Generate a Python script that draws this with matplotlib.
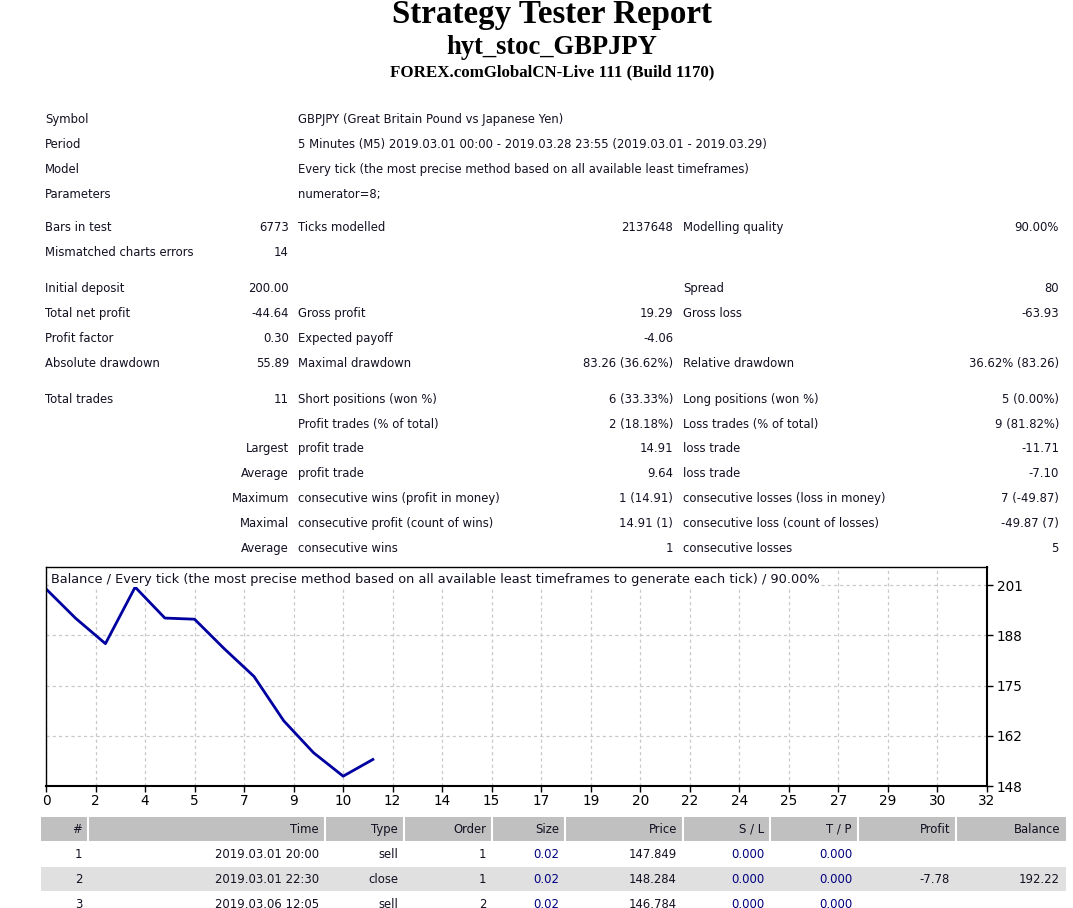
import matplotlib
matplotlib.use('Agg')
import matplotlib.pyplot as plt
from matplotlib.patches import Rectangle

W, H = 1073, 908

# balance after each trade
balance = [200.00, 192.22, 185.55, 200.46, 192.30, 192.00, 184.20,
           176.90, 165.20, 156.80, 150.59, 155.00]
x_tick_labels = [0, 2, 4, 5, 7, 9, 10, 12, 14, 15, 17, 19, 20, 22, 24, 25,
                 27, 29, 30, 32]
y_tick_labels = [148, 162, 175, 188, 201]

title_lines = ['Strategy Tester Report', 'hyt_stoc_GBPJPY',
               'FOREX.comGlobalCN-Live 111 (Build 1170)']

info_labels = ['Symbol', 'Period', 'Model', 'Parameters']
info_values = ['GBPJPY (Great Britain Pound vs Japanese Yen)',
               '5 Minutes (M5) 2019.03.01 00:00 - 2019.03.28 23:55 (2019.03.01 - 2019.03.29)',
               'Every tick (the most precise method based on all available least timeframes)',
               'numerator=8;']

stats = [
    ['Bars in test', '6773', 'Ticks modelled', '2137648', 'Modelling quality', '90.00%'],
    ['Mismatched charts errors', '14', '', '', '', ''],
    ['Initial deposit', '200.00', '', '', 'Spread', '80'],
    ['Total net profit', '-44.64', 'Gross profit', '19.29', 'Gross loss', '-63.93'],
    ['Profit factor', '0.30', 'Expected payoff', '-4.06', '', ''],
    ['Absolute drawdown', '55.89', 'Maximal drawdown', '83.26 (36.62%)',
     'Relative drawdown', '36.62% (83.26)'],
    ['Total trades', '11', 'Short positions (won %)', '6 (33.33%)',
     'Long positions (won %)', '5 (0.00%)'],
    ['', '', 'Profit trades (% of total)', '2 (18.18%)',
     'Loss trades (% of total)', '9 (81.82%)'],
    ['', 'Largest', 'profit trade', '14.91', 'loss trade', '-11.71'],
    ['', 'Average', 'profit trade', '9.64', 'loss trade', '-7.10'],
    ['', 'Maximum', 'consecutive wins (profit in money)', '1 (14.91)',
     'consecutive losses (loss in money)', '7 (-49.87)'],
    ['', 'Maximal', 'consecutive profit (count of wins)', '14.91 (1)',
     'consecutive loss (count of losses)', '-49.87 (7)'],
    ['', 'Average', 'consecutive wins', '1', 'consecutive losses', '5'],
]

chart_title = ('Balance / Every tick (the most precise method based on all '
               'available least timeframes to generate each tick) / 90.00%')

trade_cols = ['#', 'Time', 'Type', 'Order', 'Size', 'Price', 'S / L', 'T / P',
              'Profit', 'Balance']
trades = [
    ['1', '2019.03.01 20:00', 'sell', '1', '0.02', '147.849', '0.000', '0.000', '', ''],
    ['2', '2019.03.01 22:30', 'close', '1', '0.02', '148.284', '0.000', '0.000', '-7.78', '192.22'],
    ['3', '2019.03.06 12:05', 'sell', '2', '0.02', '146.784', '0.000', '0.000', '', ''],
]

# layout (pixels, text baselines)
body_font = dict(family='DejaVu Sans', size=8.35, color='#111122',
                 va='baseline')
info_y = [123, 148, 173, 198]
stat_y = [231, 256, 292, 317, 342, 367, 403, 428, 452, 477, 502, 527, 552]
col_x = [45, 289, 298, 673, 683, 1059]
col_ha = ['left', 'right', 'left', 'right', 'left', 'right']
cell_edges = [41, 88, 325, 404, 492, 565, 683, 770, 858, 956, 1066]
blue_cols = [4, 6, 7]

fig = plt.figure(figsize=(W / 100, H / 100), dpi=100)
bg = fig.add_axes([0, 0, 1, 1])
bg.set_xlim(0, W)
bg.set_ylim(H, 0)
bg.axis('off')

# header
bg.text(552, 23, title_lines[0], ha='center', va='baseline',
        family='Liberation Serif', weight='bold', size=23.8)
bg.text(552, 54, title_lines[1], ha='center', va='baseline',
        family='Liberation Serif', weight='bold', size=19.2)
bg.text(552, 76, title_lines[2], ha='center', va='baseline',
        family='Liberation Serif', weight='bold', size=12.2)

for lab, val, y in zip(info_labels, info_values, info_y):
    bg.text(45, y, lab, ha='left', **body_font)
    bg.text(298, y, val, ha='left', **body_font)

for row, y in zip(stats, stat_y):
    for txt, x, ha in zip(row, col_x, col_ha):
        if txt:
            bg.text(x, y, txt, ha=ha, **body_font)

# trades table
row_top = [817, 842, 867, 892]
bg.add_patch(Rectangle((cell_edges[0], row_top[0]), cell_edges[-1] - cell_edges[0],
                       24, color='#c0c0c0', lw=0))
for e in cell_edges[1:-1]:
    bg.plot([e, e], [row_top[0], row_top[0] + 24], color='white', lw=1.5)
bg.add_patch(Rectangle((cell_edges[0], row_top[2]), cell_edges[-1] - cell_edges[0],
                       24, color='#e0e0e0', lw=0))
for j, name in enumerate(trade_cols):
    bg.text(cell_edges[j + 1] - 6, row_top[0] + 16, name, ha='right',
            **body_font)
for i, tr in enumerate(trades):
    for j, txt in enumerate(tr):
        f = dict(body_font)
        if j in blue_cols:
            f['color'] = '#000080'
        bg.text(cell_edges[j + 1] - 6, row_top[i + 1] + 16, txt, ha='right',
                **f)

# balance chart
L, R, T, B = 46, 987, 567, 786
ax = fig.add_axes([L / W, 1 - B / H, (R - L) / W, (B - T) / H])
xs = list(range(len(balance)))
ax.plot(xs, balance, color='#0000a0', lw=2)
x_step = 5 / 3
ax.set_xticks([k * x_step for k in range(len(x_tick_labels))])
ax.set_xticklabels(x_tick_labels)
y_step = (y_tick_labels[-1] - y_tick_labels[0]) / (len(y_tick_labels) - 1)
ax.set_yticks([y_tick_labels[0] + k * y_step for k in range(len(y_tick_labels))])
ax.set_yticklabels(y_tick_labels)
ax.set_xlim(0, (len(x_tick_labels) - 1) * x_step)
ax.set_ylim(y_tick_labels[0], y_tick_labels[-1] + 4.77)
ax.yaxis.tick_right()
ax.tick_params(labelsize=9.8, length=4, width=1, pad=2, colors='black')
ax.tick_params(axis='y', pad=3)
ax.grid(True, ls=(0, (2.5, 2.5)), color='#c8c8c8', lw=0.9)
for s in ax.spines.values():
    s.set_linewidth(1)
ax.spines['right'].set_linewidth(1.5)
ax.spines['bottom'].set_linewidth(1.5)
ax.text(0.005, 0.945, chart_title, transform=ax.transAxes, ha='left',
        va='center', family='DejaVu Sans', size=9.3, color='#111122',
        bbox=dict(facecolor='white', edgecolor='none', pad=1))

fig.savefig('out.png', dpi=100)
